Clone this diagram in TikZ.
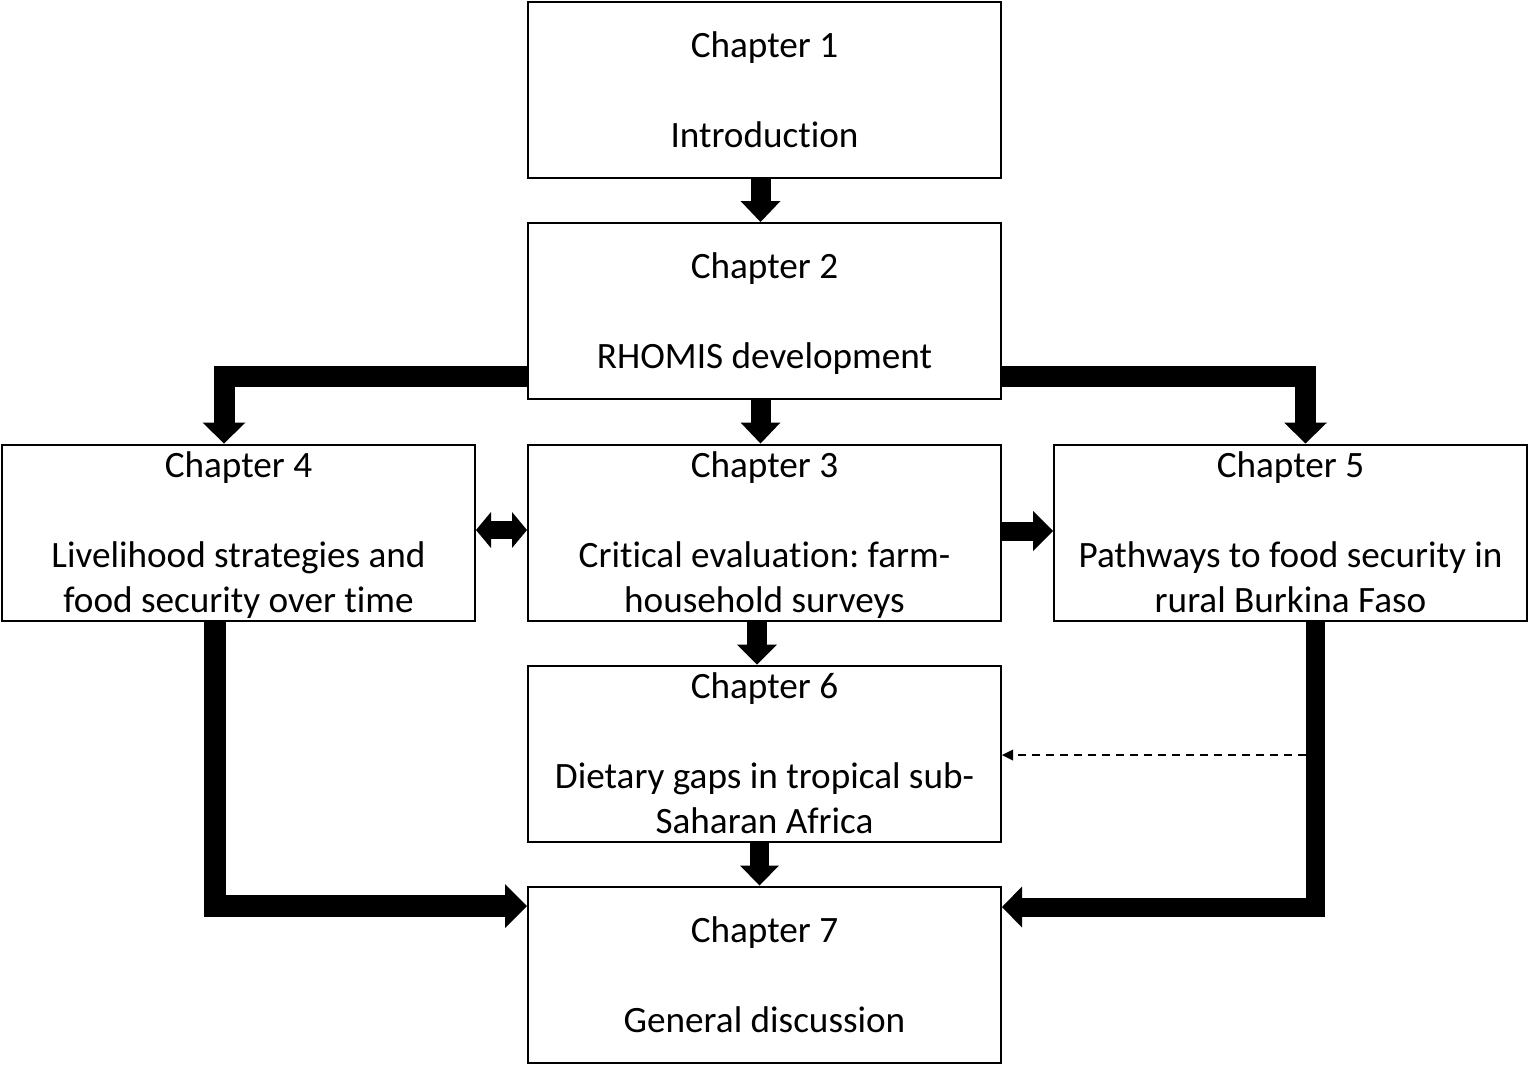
\documentclass[tikz,border=0pt]{standalone}
\usepackage{fontspec}
\setmainfont{Carlito}[Ligatures=NoCommon]
\usetikzlibrary{arrows.meta}
\newcommand\lst{\rule[-13.5pt]{0pt}{52pt}}
\newcommand\lsn{\rule[-13.5pt]{0pt}{45pt}}
\begin{document}
\frenchspacing
\begin{tikzpicture}[x=1pt,y=-1pt,
  chbox/.style={draw, line width=2pt, minimum width=473pt, minimum height=176pt,
    inner xsep=0pt, inner ysep=-30pt, align=center, font=\fontsize{37.2}{45}\selectfont\frenchspacing},
  blkarrow/.style={line width=#1, line join=miter, line cap=butt},
  tipA/.style 2 args={-{Triangle[length=#1,width=#2,line width=0pt]}},
  dasharrow/.style={line width=1.5pt, dash pattern=on 8pt off 6pt,
    -{Triangle[length=11pt,width=11pt,line width=0pt]}}
]
\useasboundingbox (0,0) rectangle (1536,1066);

\node[chbox] (b1) at (764.5,90) {\lst Chapter 1\\\lsn\\\lsn Introduction};
\node[chbox] (b2) at (764.5,311) {\lst Chapter 2\\\lsn\\\lsn RHOMIS development};
\node[chbox] (b3) at (764.5,532.5) {\lst Chapter 3\\\lsn\\\lsn Critical evaluation: farm-\\\lsn household surveys};
\node[chbox] (b4) at (238.5,532.5) {\lst Chapter 4\\\lsn\\\lsn Livelihood strategies and\\\lsn food security over time};
\node[chbox] (b5) at (1290.5,532.5) {\lst Chapter 5\\\lsn\\\lsn Pathways to food security in\\\lsn rural Burkina Faso};
\node[chbox] (b6) at (764.5,753.5) {\lst Chapter 6\\\lsn\\\lsn Dietary gaps in tropical sub-\\\lsn Saharan Africa};
\node[chbox] (b7) at (764.5,974.5) {\lst Chapter 7\\\lsn\\\lsn General discussion};

% straight down arrows
\draw[blkarrow=20pt, tipA={21pt}{40pt}] ([xshift=-4pt]b1.south) -- ([xshift=-4pt]b2.north);
\draw[blkarrow=20pt, tipA={21pt}{40pt}] ([xshift=-4pt]b2.south) -- ([xshift=-4pt]b3.north);
\draw[blkarrow=20pt, tipA={20pt}{40pt}] ([xshift=-7.5pt]b3.south) -- ([xshift=-7.5pt]b6.north);
\draw[blkarrow=19pt, tipA={20pt}{39pt}] ([xshift=-5pt]b6.south) -- ([xshift=-5pt]b7.north);

% bent arrows from chapter 2
\draw[blkarrow=21pt, tipA={21pt}{43pt}] ([yshift=-65pt]b2.west) -| ([xshift=-14.5pt]b4.north);
\draw[blkarrow=21pt, tipA={21pt}{43pt}] ([yshift=-65pt]b2.east) -| ([xshift=15pt]b5.north);

% horizontal arrows between chapter 4, 3, 5
\draw[blkarrow=18pt, {Triangle[length=15pt,width=36pt,line width=0pt]}-{Triangle[length=15pt,width=36pt,line width=0pt]}]
  ([yshift=2.5pt]b4.east) -- ([yshift=2.5pt]b3.west);
\draw[blkarrow=19pt, tipA={20pt}{40pt}] ([yshift=1.5pt]b3.east) -- ([yshift=1.5pt]b5.west);

% bent arrows into chapter 7
\draw[blkarrow=22pt, tipA={22pt}{44pt}] ([xshift=-23.5pt]b4.south) |- ([yshift=68.5pt]b7.west);
\draw[blkarrow=19pt, tipA={20pt}{41pt}] ([xshift=24.5pt]b5.south) |- ([yshift=67.5pt]b7.east);

% dashed arrow into chapter 6
\coordinate (dstart) at ([xshift=15.5pt,yshift=-1.5pt]b5.south |- b6.east);
\draw[dasharrow] (dstart) -- ([yshift=-1.5pt]b6.east);
\end{tikzpicture}
\end{document}
